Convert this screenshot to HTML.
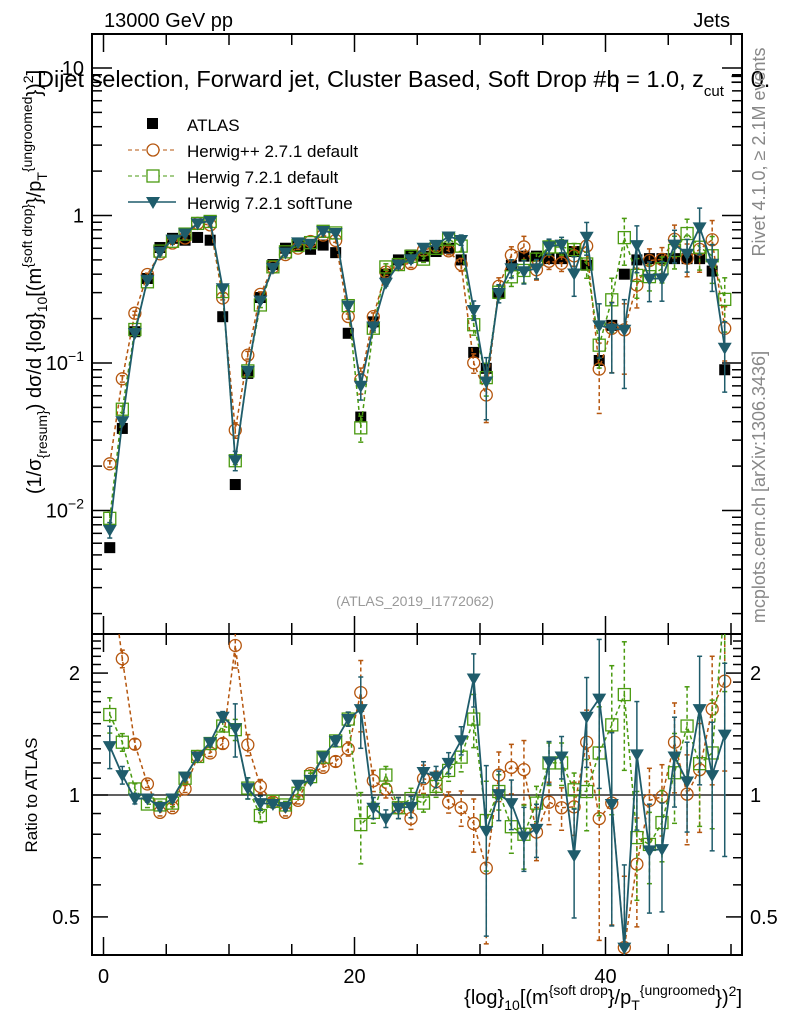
<!DOCTYPE html>
<html><head><meta charset="utf-8"><style>
html,body{margin:0;padding:0;background:#fff;overflow:hidden;}
svg{display:block;font-family:"Liberation Sans",sans-serif;}
</style></head><body>
<svg id="chart" width="786" height="1024" viewBox="0 0 786 1024" xmlns="http://www.w3.org/2000/svg">
<g id="texts">
<text x="104" y="27" font-size="20">13000 GeV pp</text>
<text x="730" y="27" font-size="20" text-anchor="end">Jets</text>
<text x="37" y="87" font-size="23.5">Dijet selection, Forward jet, Cluster Based, Soft Drop #b<tspan dx="-13">η</tspan> = 1.0, z<tspan font-size="15" dy="9">cut</tspan><tspan dy="-9"> = 0.</tspan></text>
<text transform="translate(765,152) rotate(-90)" font-size="18" fill="#888" text-anchor="middle">Rivet 4.1.0, ≥ 2.1M events</text>
<text transform="translate(765,487) rotate(-90)" font-size="18" fill="#888" text-anchor="middle">mcplots.cern.ch [arXiv:1306.3436]</text>
<text x="415" y="606" font-size="14" fill="#999" text-anchor="middle">(ATLAS_2019_I1772062)</text>
<text transform="translate(41,282) rotate(-90)" font-size="20" text-anchor="middle">(1/σ<tspan font-size="14" dy="6">{resum}</tspan><tspan dy="-6">) dσ/d {log}</tspan><tspan font-size="14" dy="6">10</tspan><tspan dy="-6">[(m</tspan><tspan font-size="14" dy="-9">{soft drop}</tspan><tspan dy="9">}/p</tspan><tspan font-size="14" dy="6">T</tspan><tspan font-size="14" dy="-15">{ungroomed</tspan><tspan dy="9">})</tspan><tspan font-size="14" dy="-8">2</tspan><tspan dy="8">]</tspan></text>
<text transform="translate(37,795) rotate(-90)" font-size="17" text-anchor="middle">Ratio to ATLAS</text>
<text x="742" y="1004" font-size="20" text-anchor="end">{log}<tspan font-size="14" dy="6">10</tspan><tspan dy="-6">[(m</tspan><tspan font-size="14" dy="-9">{soft drop</tspan><tspan dy="9">}/p</tspan><tspan font-size="14" dy="6">T</tspan><tspan font-size="14" dy="-15">{ungroomed</tspan><tspan dy="9">})</tspan><tspan font-size="14" dy="-8">2</tspan><tspan dy="8">]</tspan></text>
</g>
<g id="legend">
<rect x="147" y="118" width="11" height="11" fill="#000"/>
<text x="187" y="131" font-size="17">ATLAS</text>
<line x1="128" y1="150" x2="176" y2="150" stroke="#b5560e" stroke-dasharray="4,3"/>
<circle cx="153" cy="150" r="6" fill="#fff" stroke="#b5560e" stroke-width="1.3"/>
<text x="187" y="157" font-size="17">Herwig++ 2.7.1 default</text>
<line x1="128" y1="176" x2="176" y2="176" stroke="#4a9a10" stroke-dasharray="4,3"/>
<rect x="147" y="170" width="12" height="12" fill="#fff" stroke="#4a9a10" stroke-width="1.3"/>
<text x="187" y="183" font-size="17">Herwig 7.2.1 default</text>
<line x1="128" y1="202" x2="176" y2="202" stroke="#1f5c6b" stroke-width="1.5"/>
<path d="M146,197 L160,197 L153,209 Z" fill="#1f5c6b"/>
<text x="187" y="209" font-size="17">Herwig 7.2.1 softTune</text>
</g>
<g id="plot"></g>
</svg>
<script>
const atlas = [0.0056,0.036,0.163,0.374,0.607,0.70,0.68,0.71,0.68,0.206,0.015,0.085,0.278,0.465,0.60,0.62,0.59,0.63,0.56,0.159,0.043,0.19,0.40,0.50,0.54,0.53,0.57,0.60,0.50,0.118,0.092,0.296,0.46,0.53,0.53,0.51,0.51,0.57,0.46,0.104,0.18,0.40,0.50,0.51,0.51,0.51,0.51,0.51,0.42,0.090];
const ratioHpp = [3.7,2.17,1.335,1.065,0.906,0.93,1.035,1.245,1.27,1.34,2.34,1.33,1.05,0.96,0.906,0.97,1.13,1.17,1.21,1.30,1.79,1.085,1.035,0.93,0.875,1.097,1.08,0.96,0.93,0.85,0.66,1.12,1.17,1.155,0.81,0.96,0.93,0.935,1.35,0.875,0.955,0.42,0.675,0.97,0.99,1.35,1.005,1.155,1.63,1.91];
const ratioH7 = [1.58,1.35,1.035,0.95,0.945,0.955,1.10,1.245,1.34,1.48,1.45,1.04,0.89,0.965,0.945,1.01,1.11,1.24,1.36,1.54,0.845,0.906,1.12,0.93,0.98,0.955,1.05,1.15,1.24,1.54,0.865,1.02,0.835,0.80,0.955,1.20,1.20,1.03,1.02,1.27,1.49,1.77,0.785,0.755,0.855,1.135,1.48,1.195,1.27,3.0];
const ratioSoft = [1.32,1.12,0.98,0.98,0.935,0.98,1.11,1.245,1.35,1.56,1.46,1.04,0.955,0.95,0.935,1.06,1.09,1.245,1.36,1.54,1.63,0.93,0.875,0.93,0.935,1.14,1.11,1.20,1.365,1.94,0.815,1.005,0.955,0.79,0.825,1.21,1.245,0.71,1.56,1.73,0.95,0.42,1.26,0.73,0.735,1.245,1.08,1.63,1.12,1.41];
const errHpp = [0.05,0.05,0.03,0.02,0.02,0.02,0.02,0.02,0.02,0.03,0.12,0.06,0.04,0.02,0.02,0.02,0.02,0.02,0.03,0.04,0.2,0.06,0.05,0.06,0.06,0.08,0.06,0.06,0.1,0.15,0.35,0.14,0.14,0.18,0.15,0.12,0.12,0.15,0.2,0.5,0.5,0.5,0.3,0.2,0.2,0.25,0.25,0.3,0.35,0.4];
const errH7 = [0.1,0.05,0.03,0.02,0.02,0.02,0.02,0.02,0.02,0.03,0.06,0.06,0.04,0.02,0.02,0.02,0.02,0.02,0.03,0.04,0.2,0.06,0.05,0.06,0.06,0.05,0.06,0.06,0.08,0.15,0.25,0.1,0.14,0.18,0.1,0.12,0.12,0.1,0.2,0.3,0.4,0.35,0.3,0.2,0.2,0.25,0.25,0.3,0.35,0.4];
const errSoft = [0.12,0.05,0.03,0.02,0.02,0.02,0.02,0.02,0.02,0.03,0.15,0.06,0.04,0.02,0.02,0.02,0.02,0.02,0.03,0.04,0.2,0.06,0.05,0.06,0.06,0.06,0.06,0.06,0.08,0.15,0.45,0.14,0.14,0.18,0.15,0.12,0.12,0.3,0.25,0.4,0.5,0.6,0.35,0.3,0.3,0.25,0.25,0.35,0.35,0.5];
const xTicks = [0,20,40];
const mainTickLabels = ["10\u22122","10\u22121","1","10"];
const ratioTickValues = [0.5,1,2];

const NS="http://www.w3.org/2000/svg";
const plot=document.getElementById('plot');
const L=92,R=742,MT=34,MB=634,RT=634,RB=955;
function xs(v){return 103.5+12.55*v;}
function ym(v){return 215.5-147.5*Math.log10(v);}
function yr(v){return 795-405*Math.log10(v);}
function mk(tag,attrs,parent){const e=document.createElementNS(NS,tag);for(const k in attrs)e.setAttribute(k,attrs[k]);(parent||plot).appendChild(e);return e;}

const defs=mk('defs',{});
const c1=mk('clipPath',{id:'cm'},defs);mk('rect',{x:L,y:MT,width:R-L,height:MB-MT},c1);
const c2=mk('clipPath',{id:'cr'},defs);mk('rect',{x:L,y:RT,width:R-L,height:RB-RT},c2);

const f1=mk('rect',{x:L,y:MT,width:R-L,height:MB-MT,fill:'none',stroke:'#000','stroke-width':2});


const f2=mk('rect',{x:L,y:RT,width:R-L,height:RB-RT,fill:'none',stroke:'#000','stroke-width':2});



for(let v=0;v<=50;v+=5){
  const len=(v%20===0)?18:11;
  for(const [y0,dir] of [[MT,1],[MB,-1],[RT,1],[RB,-1]]){
    const t=mk('line',{x1:xs(v),x2:xs(v),y1:y0,y2:y0+dir*len,stroke:'#000','stroke-width':1.5});
    
    
  }
}
xTicks.forEach(v=>{
  const t=mk('text',{x:xs(v),y:983,'font-size':20,'text-anchor':'middle'});t.textContent=String(v);
  
  
});
for(let d=-3;d<=1;d++){
  for(let m=1;m<=9;m++){
    const v=m*Math.pow(10,d);const y=ym(v);
    if(y<MT||y>MB)continue;
    const len=m===1?20:10;
    for(const [x0,dir] of [[L,1],[R,-1]]){
      const t=mk('line',{x1:x0,x2:x0+dir*len,y1:y,y2:y,stroke:'#000','stroke-width':1.5});
      
      
    }
  }
}
mainTickLabels.forEach((s,i)=>{
  const v=Math.pow(10,i-2);
  const t=mk('text',{x:84,y:ym(v)+7,'font-size':20,'text-anchor':'end'});
  if(s.length>2){t.textContent='10';const sp=mk('tspan',{'font-size':14,dy:-9},t);sp.textContent=s.slice(2);}
  else t.textContent=s;
  
  
});
const rt=[0.4,0.5,0.6,0.7,0.8,0.9,1,1.1,1.2,1.3,1.4,1.5,1.6,1.7,1.8,1.9,2,2.1,2.2,2.3,2.4,2.5];
rt.forEach(v=>{
  const y=yr(v);if(y<RT||y>RB)return;
  const major=ratioTickValues.includes(v);
  const len=major?16:9;
  for(const [x0,dir] of [[L,1],[R,-1]]){
    const t=mk('line',{x1:x0,x2:x0+dir*len,y1:y,y2:y,stroke:'#000','stroke-width':1.5});
    
    
  }
});
ratioTickValues.forEach(v=>{
  for(const [x,a] of [[80,'end'],[750,'start']]){
    const t=mk('text',{x:x,y:yr(v)+7,'font-size':20,'text-anchor':a});t.textContent=String(v);
    
    
  }
});
const one=mk('line',{x1:L,x2:R,y1:yr(1),y2:yr(1),stroke:'#000','stroke-width':1.3});



function marker(g,type,x,y,col){
  let e;
  if(type==='circle')e=mk('circle',{cx:x,cy:y,r:6,fill:'none',stroke:col,'stroke-width':1.3},g);
  else if(type==='square')e=mk('rect',{x:x-6,y:y-6,width:12,height:12,fill:'none',stroke:col,'stroke-width':1.3},g);
  else if(type==='tri')e=mk('path',{d:`M${x-7},${y-5} L${x+7},${y-5} L${x},${y+7} Z`,fill:col},g);
  else e=mk('rect',{x:x-5.5,y:y-5.5,width:11,height:11,fill:col},g);
  return e;
}
function series(name,vals,errs,yf,clip,type,col,dash,width){
  const g=mk('g',{'clip-path':`url(#${clip})`});
  
  
  if(type!=='atlas'){
    const pts=vals.map((v,i)=>`${xs(i+0.5)},${yf(v)}`).join(' ');
    const pl=mk('polyline',{points:pts,fill:'none',stroke:col,'stroke-width':width,'stroke-dasharray':dash},g);
    
    
    vals.forEach((v,i)=>{
      const x=xs(i+0.5),e=errs[i]*v;
      const y1=yf(v+e),y2=yf(Math.max(v-e,v*0.05));
      const eb=mk('line',{x1:x,x2:x,y1:y1,y2:y2,stroke:col,'stroke-width':1.5,'stroke-dasharray':dash},g);
      
      
      mk('line',{x1:x-2.5,x2:x+2.5,y1:y1,y2:y1,stroke:col,'stroke-width':1.5},g);
      mk('line',{x1:x-2.5,x2:x+2.5,y1:y2,y2:y2,stroke:col,'stroke-width':1.5},g);
    });
  }
  vals.forEach((v,i)=>{
    const m=marker(g,type,xs(i+0.5),yf(v),col);
    
    
  });
}
const C_O='#b5560e',C_G='#4a9a10',C_B='#1f5c6b';
const mainHpp=atlas.map((a,i)=>a*ratioHpp[i]);
const mainH7=atlas.map((a,i)=>a*ratioH7[i]);
const mainSoft=atlas.map((a,i)=>a*ratioSoft[i]);
series('atlas-data',atlas,null,ym,'cm','atlas','#000','',1);
series('herwigpp-main',mainHpp,errHpp,ym,'cm','circle',C_O,'4,3',1.5);
series('herwig7-main',mainH7,errH7,ym,'cm','square',C_G,'4,3',1.5);
series('softtune-main',mainSoft,errSoft,ym,'cm','tri',C_B,'',1.8);
series('herwigpp-ratio',ratioHpp,errHpp,yr,'cr','circle',C_O,'4,3',1.5);
series('herwig7-ratio',ratioH7,errH7,yr,'cr','square',C_G,'4,3',1.5);
series('softtune-ratio',ratioSoft,errSoft,yr,'cr','tri',C_B,'',1.8);
</script>
</body></html>
